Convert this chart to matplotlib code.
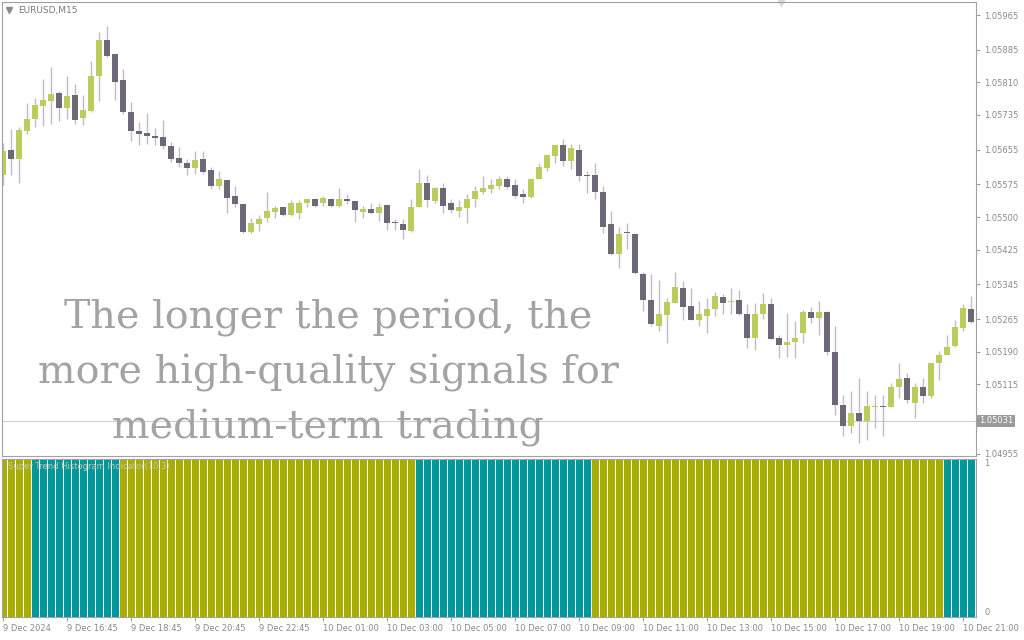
import numpy as np
import matplotlib
matplotlib.use('Agg')
import matplotlib.pyplot as plt

# EURUSD M15 candles, prices in points (1e-5)
open_pts = [
    105597, 105654, 105633, 105698, 105725, 105756, 105767, 105785, 105751, 105781,
    105728, 105744, 105824, 105908, 105876, 105815, 105741, 105697, 105693, 105687,
    105684, 105664, 105635, 105625, 105612, 105633, 105608, 105572, 105585, 105548,
    105529, 105465, 105483, 105497, 105512, 105522, 105505, 105510, 105532, 105541,
    105533, 105541, 105525, 105541, 105537, 105512, 105518, 105510, 105527, 105488,
    105485, 105468, 105524, 105578, 105537, 105566, 105532, 105514, 105521, 105541,
    105558, 105564, 105572, 105587, 105573, 105552, 105546, 105588, 105614, 105641,
    105665, 105629, 105655, 105597, 105596, 105558, 105483, 105414, 105465, 105462,
    105370, 105310, 105249, 105274, 105303, 105336, 105295, 105264, 105272, 105289,
    105315, 105304, 105310, 105278, 105222, 105276, 105301, 105222, 105205, 105212,
    105233, 105281, 105268, 105282, 105190, 105068, 105018, 105049, 105030, 105063,
    105066, 105063, 105109, 105130, 105072, 105109, 105087, 105163, 105183, 105203,
    105245, 105289,
]
high_pts = [
    105670, 105702, 105707, 105762, 105774, 105818, 105845, 105790, 105824, 105806,
    105781, 105860, 105926, 105940, 105876, 105841, 105764, 105718, 105739, 105705,
    105723, 105672, 105661, 105633, 105652, 105652, 105615, 105606, 105585, 105571,
    105531, 105497, 105504, 105557, 105525, 105524, 105539, 105539, 105542, 105545,
    105548, 105545, 105568, 105552, 105538, 105525, 105533, 105533, 105528, 105495,
    105495, 105541, 105610, 105596, 105570, 105579, 105541, 105539, 105552, 105571,
    105595, 105588, 105595, 105595, 105587, 105564, 105589, 105625, 105645, 105666,
    105679, 105668, 105668, 105606, 105625, 105571, 105514, 105476, 105487, 105464,
    105374, 105368, 105356, 105314, 105373, 105352, 105337, 105306, 105314, 105327,
    105322, 105337, 105333, 105299, 105303, 105326, 105314, 105229, 105280, 105260,
    105287, 105293, 105306, 105284, 105249, 105091, 105099, 105130, 105099, 105091,
    105091, 105118, 105164, 105141, 105118, 105130, 105164, 105191, 105229, 105264,
    105299, 105318,
]
low_pts = [
    105574, 105597, 105578, 105691, 105707, 105710, 105714, 105721, 105725, 105714,
    105711, 105741, 105767, 105868, 105770, 105737, 105675, 105665, 105668, 105665,
    105656, 105626, 105615, 105597, 105598, 105598, 105564, 105564, 105509, 105522,
    105463, 105463, 105468, 105488, 105497, 105502, 105503, 105495, 105522, 105522,
    105525, 105524, 105522, 105529, 105488, 105497, 105506, 105491, 105470, 105470,
    105449, 105466, 105523, 105524, 105532, 105510, 105509, 105501, 105486, 105524,
    105552, 105556, 105564, 105564, 105545, 105532, 105545, 105587, 105606, 105625,
    105618, 105610, 105583, 105556, 105541, 105464, 105412, 105383, 105426, 105370,
    105283, 105250, 105237, 105210, 105302, 105264, 105262, 105249, 105233, 105272,
    105276, 105276, 105275, 105199, 105195, 105266, 105219, 105176, 105179, 105176,
    105210, 105256, 105229, 105183, 105045, 104997, 105003, 104980, 104987, 105014,
    104995, 105062, 105084, 105072, 105037, 105072, 105084, 105124, 105182, 105202,
    105237, 105256,
]
close_pts = [
    105652, 105633, 105700, 105725, 105758, 105769, 105783, 105751, 105778, 105724,
    105746, 105824, 105907, 105871, 105812, 105742, 105698, 105691, 105687, 105681,
    105664, 105633, 105625, 105612, 105631, 105604, 105572, 105587, 105543, 105529,
    105465, 105487, 105495, 105514, 105520, 105504, 105533, 105533, 105541, 105525,
    105545, 105525, 105541, 105536, 105516, 105518, 105509, 105524, 105487, 105487,
    105470, 105524, 105579, 105539, 105566, 105525, 105516, 105522, 105542, 105560,
    105566, 105573, 105588, 105570, 105548, 105546, 105588, 105615, 105642, 105665,
    105629, 105660, 105595, 105595, 105558, 105478, 105414, 105462, 105464, 105372,
    105309, 105253, 105276, 105305, 105339, 105292, 105264, 105276, 105289, 105318,
    105303, 105306, 105276, 105222, 105278, 105301, 105220, 105205, 105213, 105222,
    105281, 105268, 105281, 105190, 105068, 105018, 105049, 105030, 105064, 105066,
    105063, 105109, 105128, 105078, 105109, 105087, 105163, 105183, 105201, 105247,
    105291, 105258,
]

# Super Trend histogram: runs of (state, bar count); 1 = teal, 0 = olive
trend_runs = [(0, 4), (1, 11), (0, 37), (1, 22), (0, 44), (1, 4)]

price_ticks = [1.05965, 1.05885, 1.05810, 1.05735, 1.05655, 1.05575, 1.05500,
               1.05425, 1.05345, 1.05265, 1.05190, 1.05115, 1.04955]
hline_price = 1.05031

time_labels = ['9 Dec 2024', '9 Dec 16:45', '9 Dec 18:45', '9 Dec 20:45', '9 Dec 22:45',
               '10 Dec 01:00', '10 Dec 03:00', '10 Dec 05:00', '10 Dec 07:00',
               '10 Dec 09:00', '10 Dec 11:00', '10 Dec 13:00', '10 Dec 15:00',
               '10 Dec 17:00', '10 Dec 19:00', '10 Dec 21:00']
time_tick_bars = [0, 8, 16, 24, 32, 40, 48, 56, 64, 72, 80, 88, 96, 104, 112, 120]

BULL = '#bccd5c'
BEAR = '#6e6876'
WICK = '#c2bcc8'
OLIVE = '#a8ad00'
TEAL = '#00979a'
FRAME = '#a0a0a8'
TXT = '#8a8a8a'

o = np.array(open_pts) / 1e5
h = np.array(high_pts) / 1e5
l = np.array(low_pts) / 1e5
c = np.array(close_pts) / 1e5
x = np.arange(len(o))
bull = c >= o

trend = np.concatenate([np.full(n, s) for s, n in trend_runs])

fig = plt.figure(figsize=(10.24, 6.4), dpi=100)
ax = fig.add_axes([2 / 1024, 1 - 456 / 640, 974 / 1024, 454 / 640])
axh = fig.add_axes([2 / 1024, 1 - 617 / 640, 974 / 1024, 158 / 640])

# ---- price window ----
ax.vlines(x, l, h, color=WICK, lw=1, zorder=1)
body = np.maximum(np.abs(c - o), 0.00002)
ax.bar(x, body, bottom=np.minimum(o, c), width=0.82,
       color=np.where(bull, BULL, BEAR), linewidth=0, zorder=2)
ax.axhline(hline_price, color='#cfcfd4', lw=0.8, zorder=0)

ax.set_xlim(-0.125, 121.625)
ax.set_ylim(1.04950, 1.05995)
ax.set_xticks([])
ax.yaxis.tick_right()
ax.set_yticks(price_ticks)
ax.set_yticklabels([f'{p:.5f}' for p in price_ticks])
ax.tick_params(axis='y', length=3, width=0.8, color=FRAME, labelsize=6,
               labelcolor=TXT, pad=3)
for s in ax.spines.values():
    s.set_color(FRAME)
    s.set_linewidth(0.8)

ax.text(1.003, hline_price, f'{hline_price:.5f}', transform=ax.get_yaxis_transform(),
        ha='left', va='center', fontsize=6, color='white',
        bbox=dict(boxstyle='square,pad=0.2', fc='#9a9a9a', ec='none'))

ax.text(0.017, 0.982, 'EURUSD,M15', transform=ax.transAxes, ha='left', va='center',
        fontsize=6.5, color='#7a7a7a')
ax.plot([0.0075], [0.982], marker='v', ms=4, color='#8a8a8a', transform=ax.transAxes,
        clip_on=False)
ax.plot([0.8], [0.997], marker='v', ms=5, color='#dadada', transform=ax.transAxes,
        clip_on=False)

fig.text(328 / 1024, 1 - 373 / 640,
         'The longer the period, the\nmore high-quality signals for\nmedium-term trading',
         ha='center', va='center', fontsize=28.5, color='#a3a3a3',
         family='DejaVu Serif', linespacing=1.58, zorder=10)

# ---- histogram window ----
axh.bar(x, np.ones(len(x)), width=0.875, color=np.where(trend == 1, TEAL, OLIVE),
        linewidth=0)
axh.set_xlim(-0.125, 121.625)
axh.set_ylim(0, 1)
axh.yaxis.tick_right()
axh.set_yticks([0, 1])
axh.set_yticklabels(['0', '1'])
axh.tick_params(axis='y', length=0, labelsize=6, labelcolor=TXT, pad=6)
yl = axh.get_yticklabels()
yl[0].set_va('bottom')
yl[1].set_va('top')
axh.set_xticks(time_tick_bars)
axh.set_xticklabels(time_labels, ha='left')
axh.tick_params(axis='x', length=3, width=0.8, color=FRAME, labelsize=6,
                labelcolor=TXT, pad=2)
for s in axh.spines.values():
    s.set_color(FRAME)
    s.set_linewidth(0.8)
axh.text(0.006, 0.95, 'Super Trend Histogram Indicator(10,3)', transform=axh.transAxes,
         ha='left', va='center', fontsize=6, color='#c8c8b0')

fig.savefig('out.png', dpi=100)
